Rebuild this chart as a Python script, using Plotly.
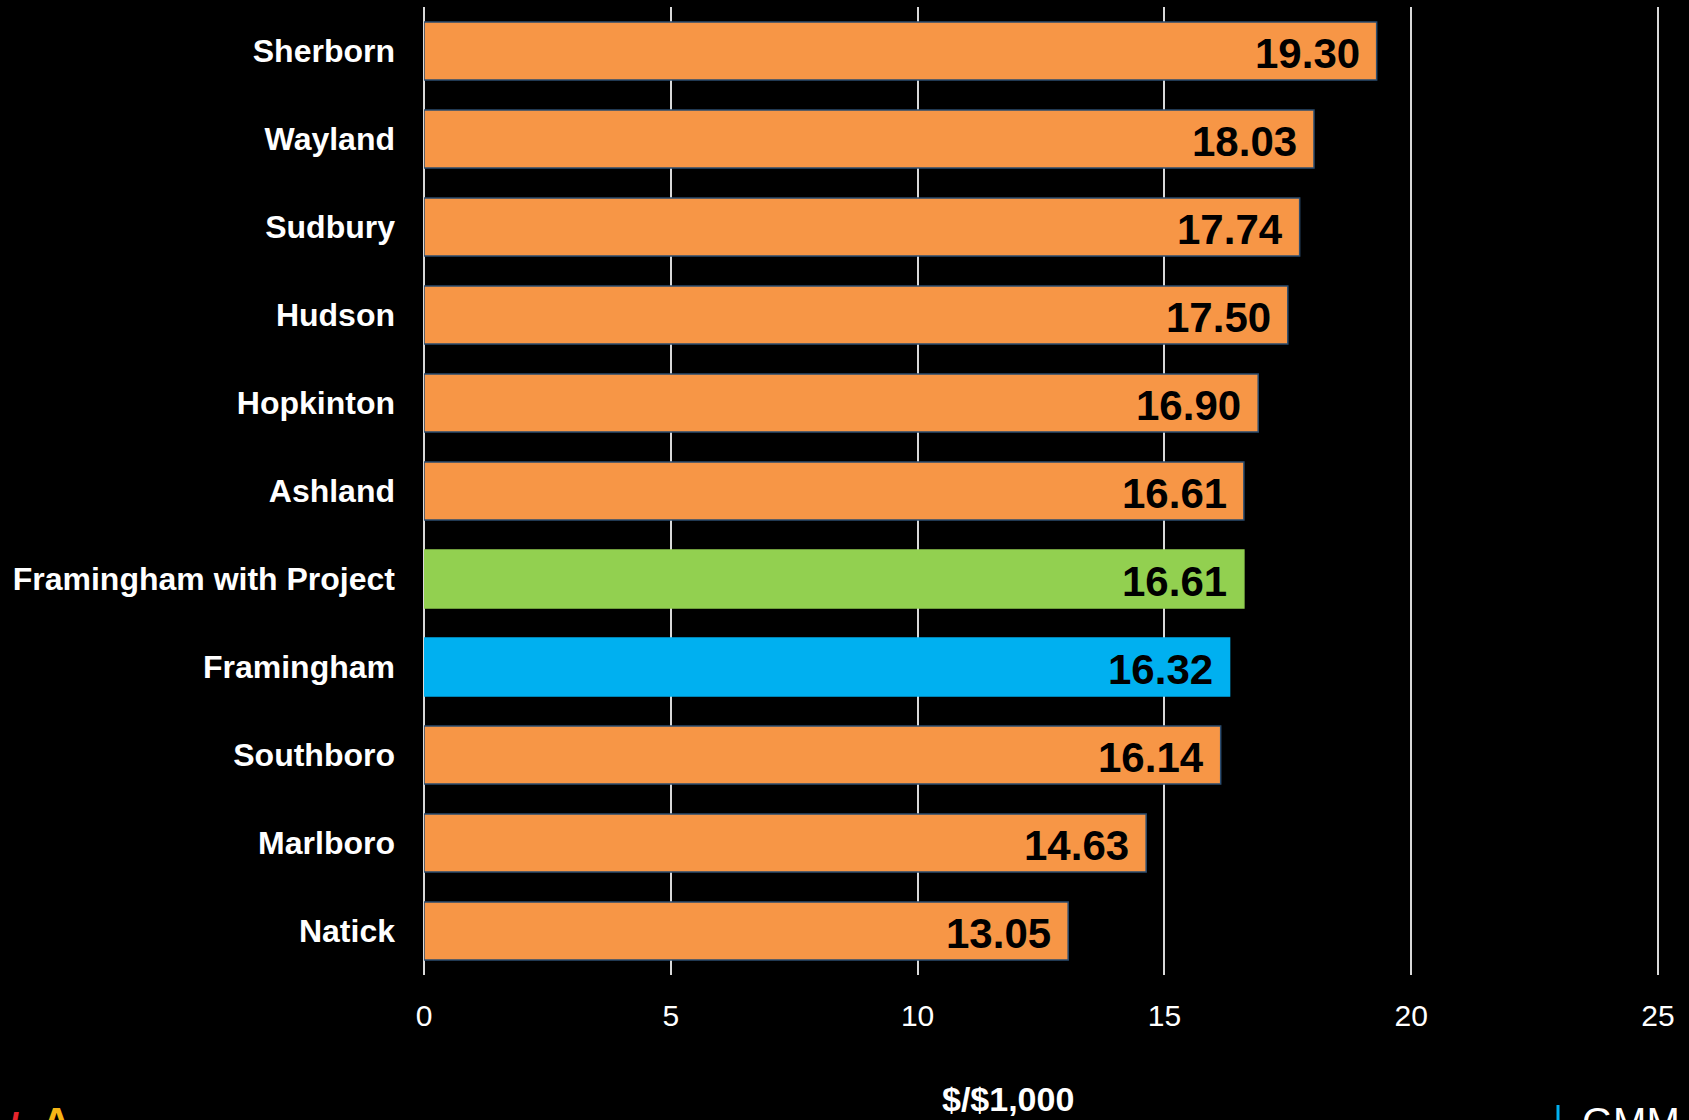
import plotly.graph_objects as go

towns = ["Sherborn", "Wayland", "Sudbury", "Hudson", "Hopkinton", "Ashland",
         "Framingham with Project", "Framingham", "Southboro", "Marlboro", "Natick"]
rates = [19.30, 18.03, 17.74, 17.50, 16.90, 16.61, 16.61, 16.32, 16.14, 14.63, 13.05]
labels = ["19.30", "18.03", "17.74", "17.50", "16.90", "16.61", "16.61", "16.32", "16.14", "14.63", "13.05"]
x_ticks = [0, 5, 10, 15, 20, 25]
axis_title = "$/$1,000"

ORANGE = "#F79646"
GREEN = "#92D050"
BLUE = "#00B0F0"
colors = [GREEN if t == "Framingham with Project" else BLUE if t == "Framingham" else ORANGE for t in towns]
line_colors = ["#2B4C6F" if c == ORANGE else c for c in colors]

FONT = "Liberation Sans, Arial, Helvetica, sans-serif"

W, H = 1689, 1120
L, R, T, B = 424, 29, 7, 145
PW, PH = W - L - R, H - T - B


def px(x):
    return (x - L) / PW


def py(y):
    return (H - B - y) / PH


fig = go.Figure()
fig.add_trace(go.Bar(
    x=rates, y=towns, orientation="h",
    marker=dict(color=colors, line=dict(color=line_colors, width=1.5)),
    hoverinfo="x+y",
))

for t, v, lab in zip(towns, rates, labels):
    fig.add_annotation(x=v, y=t, xref="x", yref="y", text="<b>%s</b>" % lab,
                       showarrow=False, xanchor="right", yanchor="middle",
                       xshift=-15, yshift=-2,
                       font=dict(family=FONT, size=42, color="#000000"))

fig.add_annotation(x=px(1008), y=py(1099), xref="paper", yref="paper",
                   text="<b>%s</b>" % axis_title, showarrow=False,
                   xanchor="center", yanchor="middle",
                   font=dict(family=FONT, size=34, color="#FFFFFF"))

# partially visible footer logos
fig.add_shape(type="line", xref="paper", yref="paper",
              x0=px(1558), x1=px(1558), y0=py(1105), y1=py(1125),
              line=dict(color=BLUE, width=3))
fig.add_annotation(x=px(1580), y=py(1098), xref="paper", yref="paper",
                   text="GMM", showarrow=False, xanchor="left", yanchor="top",
                   font=dict(family=FONT, size=40, color="#FFFFFF"))
fig.add_annotation(x=px(6), y=py(1104), xref="paper", yref="paper",
                   text="<b>/</b>", showarrow=False, xanchor="left", yanchor="top",
                   font=dict(family=FONT, size=40, color="#E8242C"))
fig.add_annotation(x=px(40), y=py(1098), xref="paper", yref="paper",
                   text="<b>A</b>", showarrow=False, xanchor="left", yanchor="top",
                   font=dict(family=FONT, size=40, color="#F7B516"))

fig.update_layout(
    width=W, height=H,
    margin=dict(l=L, r=R, t=T, b=B),
    paper_bgcolor="#000000", plot_bgcolor="#000000",
    bargap=0.34,
    showlegend=False,
    font=dict(family=FONT, color="#FFFFFF"),
    xaxis=dict(range=[0, 25.04], tickvals=x_ticks, showgrid=True,
               gridcolor="#D9D9D9", gridwidth=1.5,
               zeroline=True, zerolinecolor="#D9D9D9", zerolinewidth=1.5,
               showline=False, ticks="", ticklabelstandoff=20,
               tickfont=dict(family=FONT, size=30, color="#FFFFFF")),
    yaxis=dict(categoryorder="array", categoryarray=towns, autorange="reversed",
               showgrid=False, zeroline=False, showline=False, ticks="",
               ticklabelstandoff=28,
               tickfont=dict(family=FONT, size=32, color="#FFFFFF", weight="bold")),
)

fig.write_html("out.html",
               config={"displayModeBar": False},
               post_script="document.body.style.margin='0';document.body.style.background='#000';"
                           "document.documentElement.style.background='#000';"
                           "document.body.style.overflow='hidden';")
